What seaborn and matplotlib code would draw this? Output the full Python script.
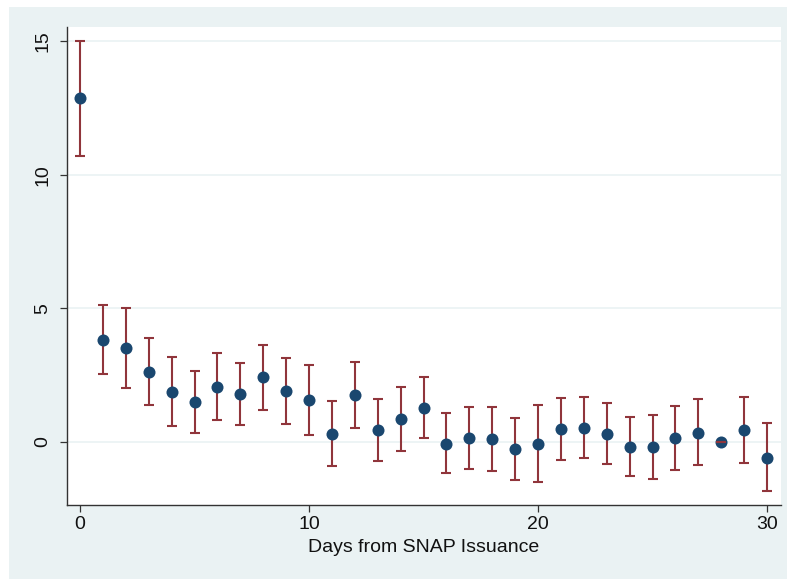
import pandas as pd
import matplotlib.pyplot as plt
import matplotlib.patches as mpatches
import seaborn as sns

# =====================================================
# Data
# =====================================================

days = list(range(31))

estimate = [
    12.87, 3.80, 3.50, 2.63, 1.87, 1.48, 2.07, 1.78, 2.42, 1.91,
    1.57, 0.31, 1.75, 0.44, 0.87, 1.28, -0.06, 0.15, 0.11, -0.27,
    -0.06, 0.49, 0.52, 0.31, -0.19, -0.19, 0.14, 0.35, 0.00, 0.45,
    -0.59
]

ci_upper = [
    15.02, 5.11, 5.00, 3.88, 3.17, 2.66, 3.33, 2.96, 3.64, 3.15,
    2.87, 1.55, 2.98, 1.60, 2.07, 2.43, 1.08, 1.31, 1.31, 0.90,
    1.38, 1.66, 1.67, 1.46, 0.92, 1.02, 1.33, 1.60, 0.00, 1.68,
    0.70
]

ci_lower = [
    10.70, 2.53, 2.03, 1.38, 0.60, 0.34, 0.82, 0.62, 1.20, 0.67,
    0.26, -0.91, 0.52, -0.71, -0.34, 0.14, -1.18, -1.00, -1.08, -1.42,
    -1.51, -0.67, -0.61, -0.84, -1.28, -1.38, -1.06, -0.87, 0.00, -0.77,
    -1.85
]

x_ticks = [0, 10, 20, 30]
y_ticks = [0, 5, 10, 15]

df = pd.DataFrame({
    "day": days,
    "estimate": estimate,
    "lo": ci_lower,
    "hi": ci_upper
})

# =====================================================
# Style
# =====================================================

sns.set_theme(style="white")
plt.rcParams["font.family"] = ["Liberation Sans", "DejaVu Sans"]

navy = "#1a476f"
maroon = "#90353b"
bg = "#eaf2f3"
ink = "#111111"

fig = plt.figure(figsize=(7.87, 5.79), dpi=100, facecolor="white")

fig.patches.append(mpatches.Rectangle(
    (9 / 787, 0), 1, (579 - 7) / 579,
    transform=fig.transFigure,
    facecolor=bg,
    edgecolor="none",
    zorder=-10
))

ax = fig.add_axes([67 / 787, 74 / 579, 714 / 787, 478 / 579])
ax.set_facecolor("white")

# =====================================================
# Plot
# =====================================================

for y in y_ticks:
    ax.axhline(y, color=bg, linewidth=1.2, zorder=0)

eb = ax.errorbar(
    df["day"],
    df["estimate"],
    yerr=[df["estimate"] - df["lo"], df["hi"] - df["estimate"]],
    fmt="none",
    ecolor=maroon,
    elinewidth=1.5,
    capsize=3.8,
    capthick=1.5,
    zorder=2
)
for cap in eb[1]:
    cap.set_zorder(4)

sns.scatterplot(
    data=df,
    x="day",
    y="estimate",
    color=navy,
    s=75,
    edgecolor=navy,
    linewidth=0,
    zorder=3,
    ax=ax
)

ax.set_xlim(-0.57, 30.61)
ax.set_ylim(-2.36, 15.53)

ax.set_xticks(x_ticks)
ax.set_yticks(y_ticks)

ax.set_xlabel("Days from SNAP Issuance", fontsize=14, color=ink, labelpad=4)
ax.set_ylabel("")

ax.tick_params(axis="both", which="major", direction="out",
               length=5, width=0.9, color="#333333",
               labelsize=14, labelcolor=ink,
               left=True, bottom=True, pad=3)
ax.tick_params(axis="y", pad=6)

for label in ax.get_yticklabels():
    label.set_rotation(90)
    label.set_va("center")

for side in ["top", "right"]:
    ax.spines[side].set_visible(False)
for side in ["left", "bottom"]:
    ax.spines[side].set_color("#333333")
    ax.spines[side].set_linewidth(1.0)

plt.savefig("out.png", dpi=100, facecolor=fig.get_facecolor())
plt.close()
